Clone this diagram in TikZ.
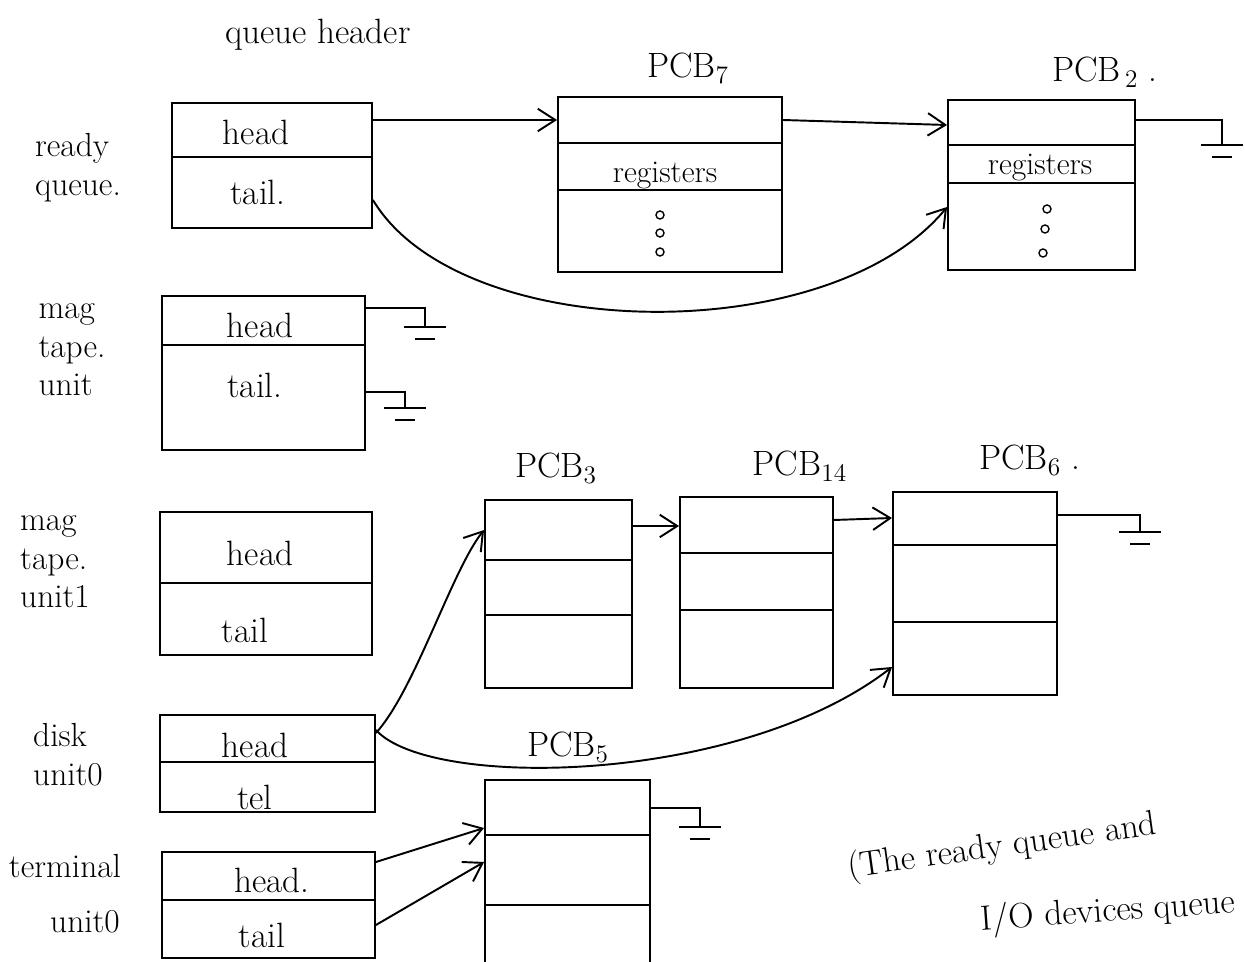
\documentclass[tikz,border=0pt]{standalone}
\usetikzlibrary{arrows.meta,calc}
\begin{document}
\begin{tikzpicture}[x=0.02cm,y=-0.02cm,
  every node/.style={font=\fontsize{20}{25}\selectfont},
  box/.style={draw,line width=1.1pt,inner sep=0pt},
  ln/.style={line width=1.1pt},
  lbl/.style={align=left,font=\fontsize{19}{22}\selectfont},
  reg/.style={font=\fontsize{18}{22}\selectfont},
  dotc/.style={circle,draw,line width=0.8pt,inner sep=0pt,minimum size=0.16cm},
  arr/.style={line width=1.1pt,-{Straight Barb[length=3.5mm,width=4.5mm]}},
  gnd/.pic={\draw[line width=1.1pt] (-21,0)--(21,0) (-10,12)--(10,12);}]
\useasboundingbox (0,0) rectangle (1245,962);
\clip (0,0) rectangle (1245,962);

% title
\node (qh) at (318,35) {queue header};

% ---------------- ready queue ----------------
\node[lbl] (lrq) at (78,168) {ready\\queue.};
\node[box,minimum width=4cm,minimum height=2.5cm] (rq) at (272,165.5) {};
\draw[ln] (rq.west |- 0,157) -- (rq.east |- 0,157);
\node (rqh) at (256,132) {head};
\node (rqt) at (258,192) {tail.};

% PCB7
\node (lp7) at (688,68) {PCB$_7$};
\node[box,minimum width=4.48cm,minimum height=3.5cm] (p7) at (670,184.5) {};
\draw[ln] (p7.west |- 0,143) -- (p7.east |- 0,143);
\draw[ln] (p7.west |- 0,190) -- (p7.east |- 0,190);
\node[reg] (p7r) at (665,176) {registers};
\node[dotc] (p7d1) at (660,215) {};
\node[dotc] (p7d2) at (660,233) {};
\node[dotc] (p7d3) at (660,252) {};

% PCB2
\node (lp2) at (1105,72) {PCB$_{\,2}$ .};
\node[box,minimum width=3.74cm,minimum height=3.4cm] (p2) at (1041.5,185) {};
\draw[ln] (p2.west |- 0,145) -- (p2.east |- 0,145);
\draw[ln] (p2.west |- 0,183) -- (p2.east |- 0,183);
\node[reg] (p2r) at (1040,168) {registers};
\node[dotc] (p2d1) at (1047,209) {};
\node[dotc] (p2d2) at (1045,229) {};
\node[dotc] (p2d3) at (1043,253) {};

\draw[arr] (rq.east |- 0,120) -- (p7.west |- 0,120);
\draw[arr] (p7.east |- 0,120) -- (p2.west |- 0,125);
\draw[arr] (rq.east |- 0,200) .. controls (460,345) and (830,350) .. (p2.west |- 0,207);
\coordinate (g1) at (1222,145);
\draw[ln] (p2.east |- 0,120) -| (g1);
\pic at (g1) {gnd};

% ---------------- mag tape unit ----------------
\node[lbl] (lmt) at (72,350) {mag\\tape.\\unit};
\node[box,minimum width=4.06cm,minimum height=3.08cm] (mt) at (263.5,373) {};
\draw[ln] (mt.west |- 0,345) -- (mt.east |- 0,345);
\node (mth) at (260,325) {head};
\node (mtt) at (255,385) {tail.};
\coordinate (g2) at (425,327);
\draw[ln] (mt.east |- 0,308) -| (g2);
\pic at (g2) {gnd};
\coordinate (g3) at (405,408);
\draw[ln] (mt.east |- 0,392) -| (g3);
\pic at (g3) {gnd};

% ---------------- mag tape unit 1 ----------------
\node[lbl] (lmt1) at (55,562) {mag\\tape.\\unit1};
\node[box,minimum width=4.24cm,minimum height=2.86cm] (mt1) at (266,583.5) {};
\draw[ln] (mt1.west |- 0,583) -- (mt1.east |- 0,583);
\node (mt1h) at (260,553) {head};
\node (mt1t) at (245,630) {tail};

% PCB3, PCB14, PCB6
\node (lp3) at (556,468) {PCB$_3$};
\node[box,minimum width=2.94cm,minimum height=3.76cm] (p3) at (558.5,594) {};
\draw[ln] (p3.west |- 0,560) -- (p3.east |- 0,560);
\draw[ln] (p3.west |- 0,615) -- (p3.east |- 0,615);

\node (lp14) at (800,466) {PCB$_{14}$};
\node[box,minimum width=3.06cm,minimum height=3.82cm] (p14) at (756.5,592.5) {};
\draw[ln] (p14.west |- 0,553) -- (p14.east |- 0,553);
\draw[ln] (p14.west |- 0,610) -- (p14.east |- 0,610);

\node (lp6) at (1030,460) {PCB$_6$ .};
\node[box,minimum width=3.28cm,minimum height=4.06cm] (p6) at (975,593.5) {};
\draw[ln] (p6.west |- 0,545) -- (p6.east |- 0,545);
\draw[ln] (p6.west |- 0,622) -- (p6.east |- 0,622);

\draw[arr] (p3.east |- 0,526) -- (p14.west |- 0,526);
\draw[arr] (p14.east |- 0,520) -- (p6.west |- 0,518);
\coordinate (g4) at (1140,532);
\draw[ln] (p6.east |- 0,515) -| (g4);
\pic at (g4) {gnd};

% ---------------- disk unit 0 ----------------
\node[lbl] (ldk) at (68,755) {disk\\unit0};
\node[box,minimum width=4.3cm,minimum height=1.94cm] (dk) at (267.5,763.5) {};
\draw[ln] (dk.west |- 0,762) -- (dk.east |- 0,762);
\node (dkh) at (255,745) {head};
\node (dkt) at (255,797) {tel};

\draw[arr] (dk.east |- 0,733) .. controls (415,690) and (452,570) .. (p3.west |- 0,530);
\draw[arr] (dk.east |- 0,730) .. controls (430,790) and (740,785) .. (p6.west |- 0,667);

% PCB5
\node (lp5) at (568,747) {PCB$_5$};
\node[box,minimum width=3.3cm,minimum height=4.4cm] (p5) at (567.5,890) {};
\draw[ln] (p5.west |- 0,835) -- (p5.east |- 0,835);
\draw[ln] (p5.west |- 0,905) -- (p5.east |- 0,905);
\coordinate (g5) at (700,827);
\draw[ln] (p5.east |- 0,808) -| (g5);
\pic at (g5) {gnd};

% ---------------- terminal unit 0 ----------------
\node[lbl] (ltm1) at (65,866) {terminal};
\node[lbl] (ltm2) at (85,922) {unit0};
\node[box,minimum width=4.26cm,minimum height=2.12cm] (tm) at (268.5,905) {};
\draw[ln] (tm.west |- 0,900) -- (tm.east |- 0,900);
\node (tmh) at (272,880) {head.};
\node (tmt) at (262,935) {tail};

\draw[arr] (tm.east |- 0,862) -- (p5.west |- 0,828);
\draw[arr] (tm.east |- 0,925) -- (p5.west |- 0,862);

% note
\node[rotate=8,anchor=west] (n1) at (842,870) {(The ready queue and};
\node[rotate=4,anchor=west] (n2) at (975,922) {I/O devices queue};
\end{tikzpicture}
\end{document}
